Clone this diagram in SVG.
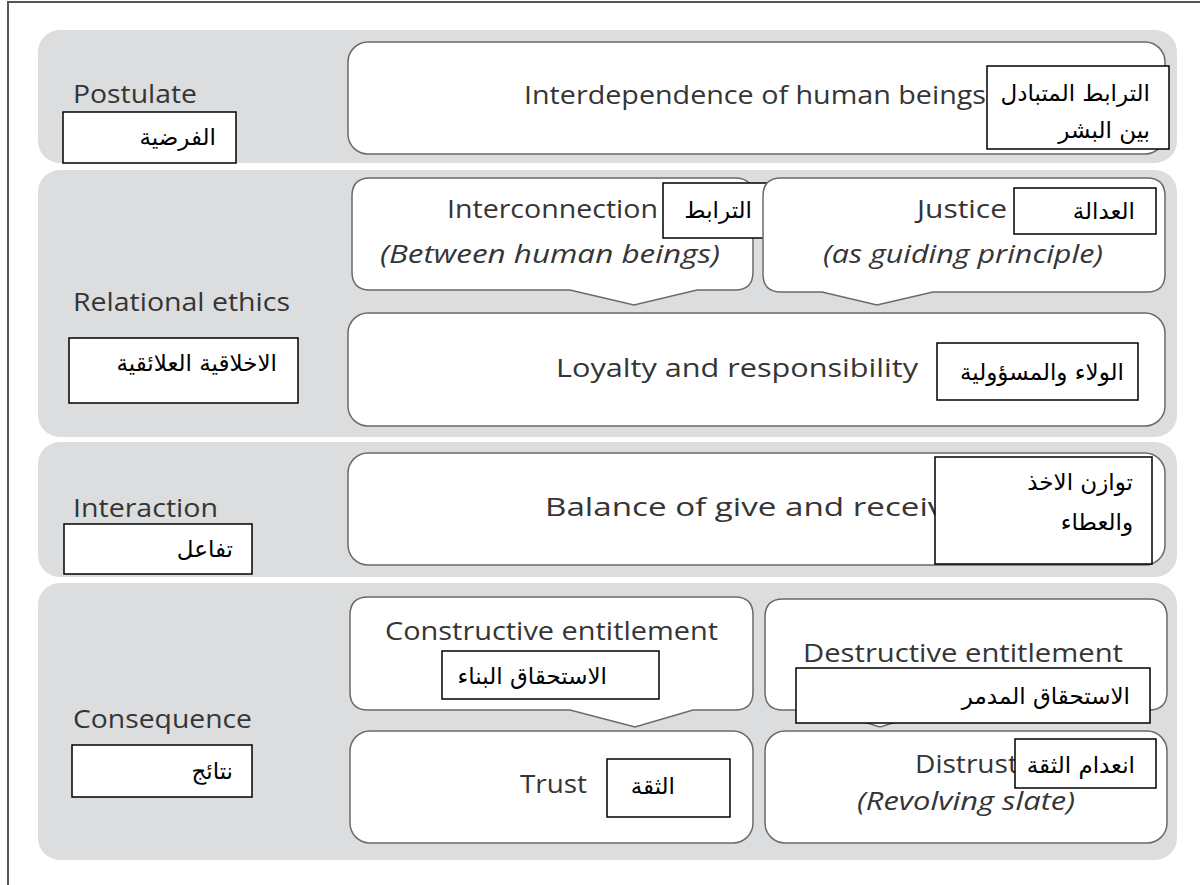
<svg xmlns="http://www.w3.org/2000/svg" width="1200" height="885" viewBox="0 0 1200 885">
<style>
.band{fill:#dcddde;}
.box{fill:#ffffff;stroke:#6a6a6a;stroke-width:1.5;}
.en{font-family:"Open Sans","Liberation Sans",sans-serif;font-size:25px;fill:#353535;}
.it{font-style:italic;}
.abox{fill:#ffffff;stroke:#000000;stroke-width:1.5;}
.ar{font-family:"DejaVu Sans","Liberation Sans",sans-serif;font-size:23px;fill:#000000;text-anchor:end;}
</style>
<rect x="0" y="0" width="1200" height="885" fill="#ffffff"/>
<path d="M8 885 V2 H1200" fill="none" stroke="#555555" stroke-width="2"/>

<g id="band-postulate">
<rect class="band" x="38" y="30" width="1139" height="133" rx="22"/>
<text class="en" x="73" y="103" textLength="124" lengthAdjust="spacingAndGlyphs">Postulate</text>
<rect class="abox" x="63" y="112" width="173" height="51"/>
<text class="ar" x="216" y="145">الفرضية</text>
</g>

<g id="band-relational">
<rect class="band" x="38" y="170" width="1139" height="267" rx="22"/>
<text class="en" x="73" y="311" textLength="217" lengthAdjust="spacingAndGlyphs">Relational ethics</text>
<rect class="abox" x="69" y="338" width="229" height="65"/>
<text class="ar" x="277" y="371">الاخلاقية العلائقية</text>
</g>

<g id="band-interaction">
<rect class="band" x="38" y="442" width="1139" height="135" rx="22"/>
<text class="en" x="73" y="517" textLength="145" lengthAdjust="spacingAndGlyphs">Interaction</text>
<rect class="abox" x="64" y="524" width="188" height="50"/>
<text class="ar" x="233" y="557">تفاعل</text>
</g>

<g id="band-consequence">
<rect class="band" x="38" y="583" width="1139" height="277" rx="22"/>
<text class="en" x="73" y="728" textLength="179" lengthAdjust="spacingAndGlyphs">Consequence</text>
<rect class="abox" x="72" y="745" width="180" height="52"/>
<text class="ar" x="233" y="779">نتائج</text>
</g>

<g id="node-interdependence">
<rect class="box" x="348" y="42" width="817" height="112" rx="20"/>
<text class="en" x="524" y="104" textLength="462" lengthAdjust="spacingAndGlyphs">Interdependence of human beings</text>
<rect class="abox" x="987" y="66" width="182" height="83"/>
<text class="ar" x="1150" y="101">الترابط المتبادل</text>
<text class="ar" x="1150" y="138">بين البشر</text>
</g>

<g id="node-interconnection">
<path class="box" d="M370 178 H735 Q753 178 753 196 V272 Q753 290 735 290 H697 L634 305 L570 290 H370 Q352 290 352 272 V196 Q352 178 370 178 Z"/>
<text class="en" x="447" y="218" textLength="211" lengthAdjust="spacingAndGlyphs">Interconnection</text>
<text class="en it" x="380" y="263" textLength="340" lengthAdjust="spacingAndGlyphs">(Between human beings)</text>
<rect class="abox" x="663" y="183" width="105" height="55"/>
<text class="ar" x="752" y="218">الترابط</text>
</g>

<g id="node-justice">
<path class="box" d="M781 178 H1147 Q1165 178 1165 196 V274 Q1165 292 1147 292 H933 L877 305 L822 292 H781 Q763 292 763 274 V196 Q763 178 781 178 Z"/>
<text class="en" x="917" y="218" textLength="90" lengthAdjust="spacingAndGlyphs">Justice</text>
<text class="en it" x="823" y="263" textLength="280" lengthAdjust="spacingAndGlyphs">(as guiding principle)</text>
<rect class="abox" x="1014" y="188" width="142" height="46"/>
<text class="ar" x="1135" y="219">العدالة</text>
</g>

<g id="node-loyalty">
<rect class="box" x="348" y="313" width="817" height="113" rx="20"/>
<text class="en" x="556" y="377" textLength="362" lengthAdjust="spacingAndGlyphs">Loyalty and responsibility</text>
<rect class="abox" x="937" y="343" width="201" height="57"/>
<text class="ar" x="1124" y="380">الولاء والمسؤولية</text>
</g>

<g id="node-balance">
<rect class="box" x="348" y="453" width="817" height="112" rx="20"/>
<text class="en" x="545" y="516" textLength="418" lengthAdjust="spacingAndGlyphs">Balance of give and receive</text>
<rect class="abox" x="935" y="457" width="217" height="107"/>
<text class="ar" x="1133" y="490">توازن الاخذ</text>
<text class="ar" x="1133" y="530">والعطاء</text>
</g>

<g id="node-constructive">
<path class="box" d="M368 597 H735 Q753 597 753 615 V692 Q753 710 735 710 H693 L635 727 L570 710 H368 Q350 710 350 692 V615 Q350 597 368 597 Z"/>
<text class="en" x="385" y="640" textLength="333" lengthAdjust="spacingAndGlyphs">Constructive entitlement</text>
<rect class="abox" x="442" y="651" width="217" height="48"/>
<text class="ar" x="607" y="684">الاستحقاق البناء</text>
</g>

<g id="node-destructive">
<path class="box" d="M783 599 H1149 Q1167 599 1167 617 V692 Q1167 710 1149 710 H935 L880 727 L825 710 H783 Q765 710 765 692 V617 Q765 599 783 599 Z"/>
<text class="en" x="803" y="662" textLength="320" lengthAdjust="spacingAndGlyphs">Destructive entitlement</text>
<rect class="abox" x="796" y="668" width="354" height="55"/>
<text class="ar" x="1130" y="704">الاستحقاق المدمر</text>
</g>

<g id="node-trust">
<rect class="box" x="350" y="731" width="403" height="112" rx="20"/>
<text class="en" x="520" y="793" textLength="67" lengthAdjust="spacingAndGlyphs">Trust</text>
<rect class="abox" x="607" y="759" width="123" height="58"/>
<text class="ar" x="675" y="794">الثقة</text>
</g>

<g id="node-distrust">
<rect class="box" x="765" y="731" width="402" height="112" rx="20"/>
<text class="en" x="915" y="773" textLength="103" lengthAdjust="spacingAndGlyphs">Distrust</text>
<text class="en it" x="857" y="810" textLength="218" lengthAdjust="spacingAndGlyphs">(Revolving slate)</text>
<rect class="abox" x="1015" y="739" width="141" height="49"/>
<text class="ar" x="1135" y="773">انعدام الثقة</text>
</g>

<g id="connectors"></g>
</svg>
